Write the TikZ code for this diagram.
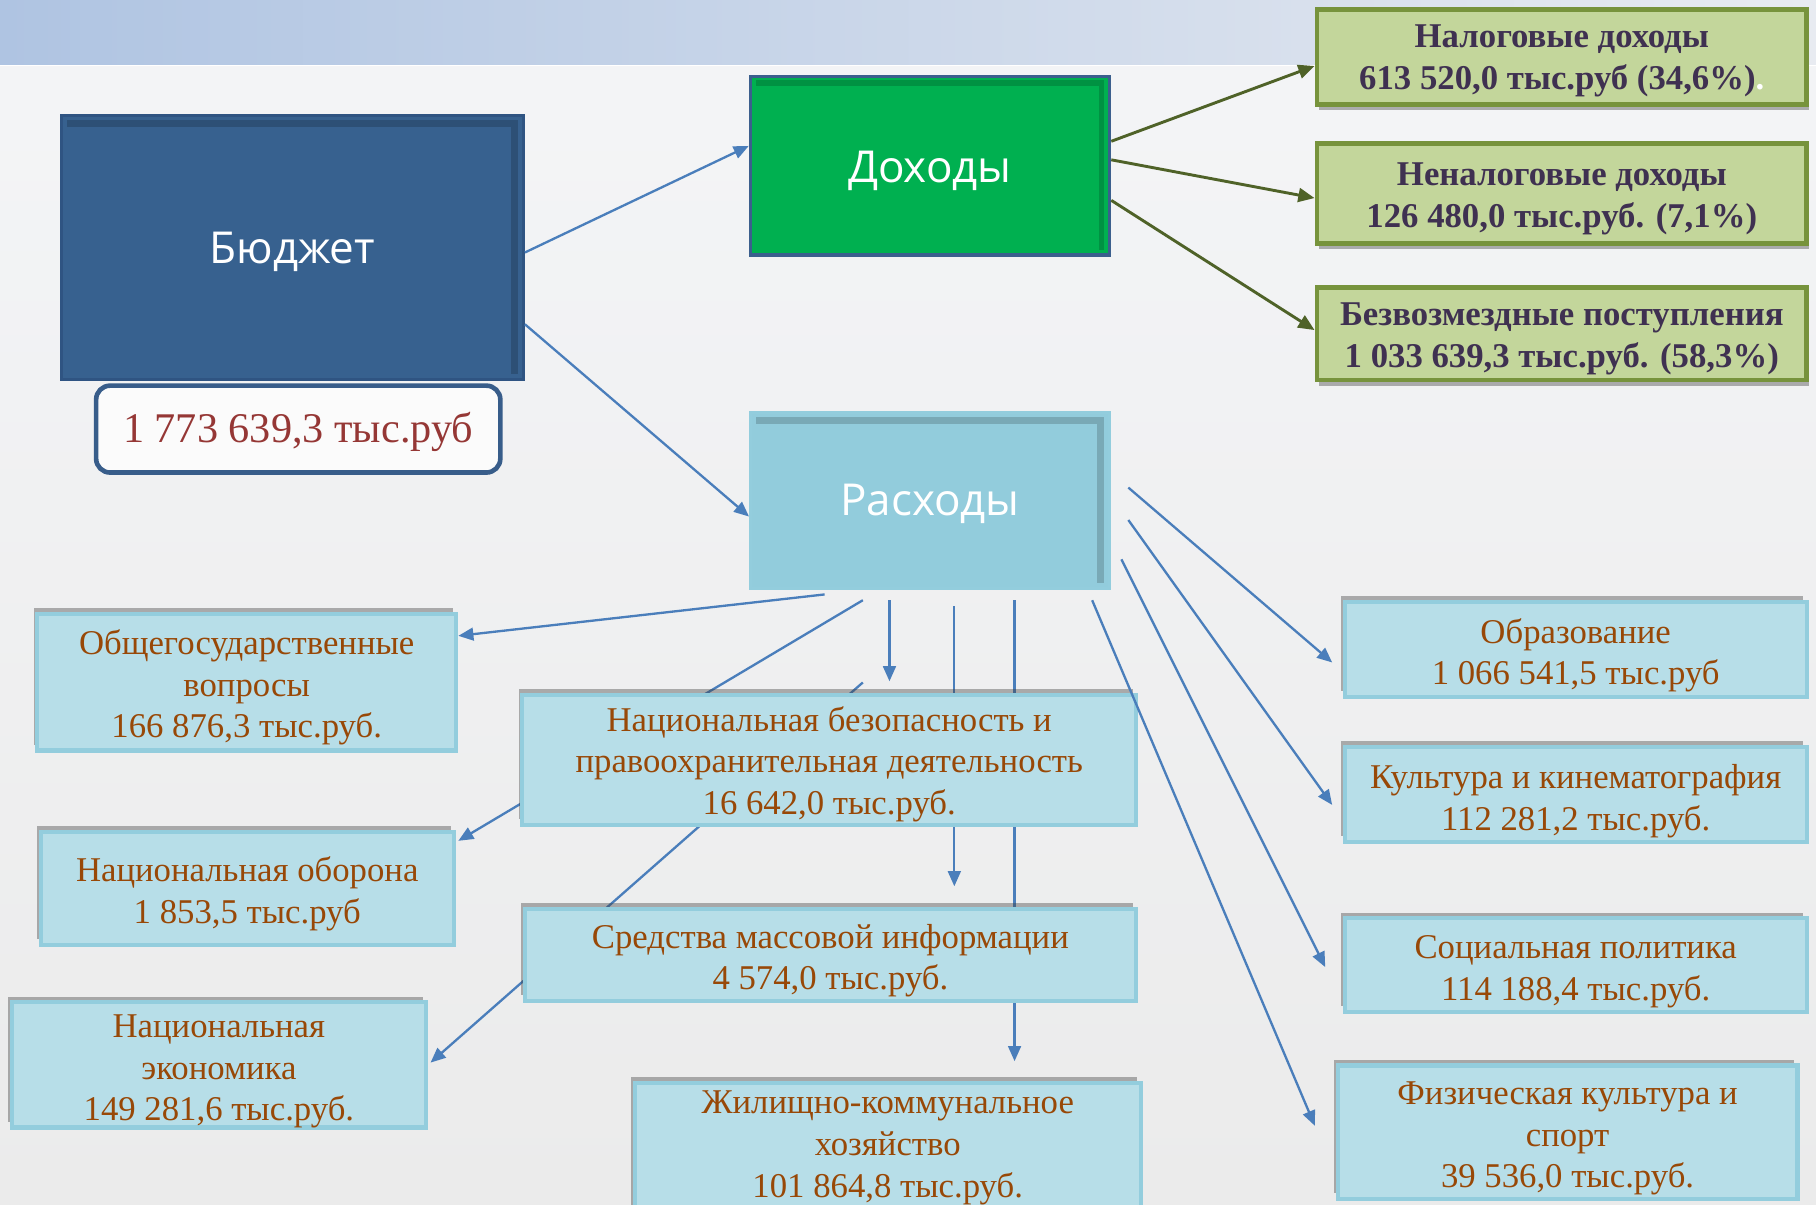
\documentclass[tikz,border=0pt]{standalone}
\usepackage{fontspec}
\setmainfont{Liberation Serif}
\newfontfamily\sansf{Open Sans}
\usetikzlibrary{arrows.meta,shadows,calc}
\pgfdeclarelayer{bg}
\pgfsetlayers{bg,main}
\newcommand\dn[2][5pt]{\raisebox{-#1}[\height][\depth]{\begin{tabular}{@{}c@{}}#2\end{tabular}}}
\definecolor{bgA}{HTML}{F4F5F7}
\definecolor{bgB}{HTML}{EBEBEB}
\definecolor{bandL}{HTML}{AFC4E2}
\definecolor{bandR}{HTML}{E8EBF1}
\definecolor{budF}{HTML}{37618F}
\definecolor{budB}{HTML}{2F5482}
\definecolor{dohF}{HTML}{00B050}
\definecolor{dohB}{HTML}{3B5F8D}
\definecolor{rasF}{HTML}{92CCDC}
\definecolor{lbF}{HTML}{B7DEE8}
\definecolor{lbB}{HTML}{93CDDD}
\definecolor{brn}{HTML}{984807}
\definecolor{gF}{HTML}{C3D69B}
\definecolor{gB}{HTML}{77933C}
\definecolor{gT}{HTML}{3F3151}
\definecolor{olv}{HTML}{4F6228}
\definecolor{blu}{HTML}{4A7EBB}
\definecolor{amtB}{HTML}{385D8A}
\definecolor{amtT}{HTML}{953735}
\begin{document}
\begin{tikzpicture}[x=1pt,y=-1pt,
  lbox/.style={draw=lbB, fill=lbF, line width=3.5pt, text=brn,
    font=\fontsize{30}{36}\selectfont, inner sep=0pt,
    drop shadow={shadow xshift=-3pt, shadow yshift=5pt, opacity=.4, fill=black!75}},
  gbox/.style={draw=gB, fill=gF, line width=4pt, text=gT,
    font=\bfseries\fontsize{30}{36}\selectfont, inner sep=0pt,
    drop shadow={shadow xshift=2pt, shadow yshift=-5pt, opacity=.4, fill=black!75}},
  bigbox/.style={text=white, font=\sansf\fontsize{38}{42}\selectfont, inner sep=0pt},
  bl/.style={draw=blu, line width=2pt},
  blA/.style={bl, -{Triangle[length=13pt,width=11pt]}},
  olA/.style={draw=olv, line width=2.5pt, -{Triangle[length=14pt,width=12pt]}},
  innershade/.style={black, opacity=.17}]

\useasboundingbox (0,0) rectangle (1568,1040);
\begin{pgfonlayer}{bg}
  \fill[top color=bgA, bottom color=bgB] (0,0) rectangle (1568,1040);
  \fill[left color=bandL, right color=bandR] (0,0) rectangle (1568,56);
  \draw[white, line width=1.5pt] (0,56.5) -- (1568,56.5);
\end{pgfonlayer}

% main boxes
\node[bigbox, draw=budB, fill=budF, line width=2.5pt, minimum width=399, minimum height=228] (bud) at (252.5,214) {\dn{Бюджет}};
\node[draw=amtB, fill=white!97!gray, line width=4pt, rounded corners=12pt, minimum width=349, minimum height=75,
  text=amtT, font=\fontsize{36.5}{40}\selectfont, inner sep=0pt] (amt) at (257.5,370.5) {\dn[4pt]{1 773 639,3 тыс.руб}};
\node[bigbox, draw=dohB, fill=dohF, line width=3pt, minimum width=310, minimum height=154] (doh) at (803,143) {\dn[6pt]{Доходы}};
\node[bigbox, draw=lbB, fill=rasF, line width=2.5pt, minimum width=310, minimum height=152] (ras) at (803,432) {\dn{Расходы}};

% inner shadows
\fill[innershade] ([xshift=6pt,yshift=-5pt]bud.north west) rectangle ([xshift=-6pt,yshift=-11pt]bud.north east);
\fill[innershade] ([xshift=-12pt,yshift=-11pt]bud.north east) rectangle ([xshift=-6pt,yshift=6pt]bud.south east);
\fill[innershade] ([xshift=6pt,yshift=-5pt]doh.north west) rectangle ([xshift=-6pt,yshift=-10pt]doh.north east);
\fill[innershade] ([xshift=-11pt,yshift=-10pt]doh.north east) rectangle ([xshift=-6pt,yshift=6pt]doh.south east);
\fill[innershade] ([xshift=6pt,yshift=-5pt]ras.north west) rectangle ([xshift=-6pt,yshift=-11pt]ras.north east);
\fill[innershade] ([xshift=-12pt,yshift=-11pt]ras.north east) rectangle ([xshift=-6pt,yshift=6pt]ras.south east);

% income boxes
\node[gbox, minimum width=423, minimum height=82] (nal) at (1348.5,49) {\dn[3pt]{Налоговые доходы\\613 520,0 тыс.руб (34,6\%){\color{white}.}}};
\node[gbox, minimum width=423, minimum height=86] (nenal) at (1348.5,167) {\dn[4pt]{Неналоговые доходы\\126 480,0 тыс.руб. (7,1\%)}};
\node[gbox, minimum width=423, minimum height=80] (bezv) at (1348.5,288) {\dn[4pt]{Безвозмездные поступления\\1 033 639,3 тыс.руб. (58,3\%)}};

% expense boxes
\node[lbox, minimum width=362, minimum height=118] (obsh) at (213,589) {\dn{Общегосударственные\\вопросы\\166 876,3 тыс.руб.}};
\node[lbox, minimum width=530, minimum height=112] (nb) at (716,656) {\dn[4pt]{Национальная безопасность и\\правоохранительная деятельность\\16 642,0 тыс.руб.}};
\node[lbox, minimum width=357, minimum height=98] (obor) at (213.5,767) {\dn{Национальная оборона\\1 853,5 тыс.руб}};
\node[lbox, minimum width=528, minimum height=79] (smi) at (717,824.5) {\dn{Средства массовой информации\\4 574,0 тыс.руб.}};
\node[lbox, minimum width=358, minimum height=107] (econ) at (189,919.5) {\dn{Национальная\\экономика\\149 281,6 тыс.руб.}};
\node[lbox, minimum width=437, minimum height=115] (zhkh) at (766.5,992.5) {\dn[-2pt]{Жилищно-коммунальное\\хозяйство\\101 864,8 тыс.руб.}};
\node[lbox, minimum width=399, minimum height=82] (obr) at (1360.5,561) {\dn{Образование\\1 066 541,5 тыс.руб}};
\node[lbox, minimum width=399, minimum height=82] (kult) at (1360.5,686) {\dn[6pt]{Культура и кинематография\\112 281,2 тыс.руб.}};
\node[lbox, minimum width=399, minimum height=81] (soc) at (1360.5,833.5) {\dn{Социальная политика\\114 188,4 тыс.руб.}};
\node[lbox, minimum width=397, minimum height=115] (fiz) at (1353.5,977.5) {\dn{Физическая культура и\\спорт\\39 536,0 тыс.руб.}};

% connectors hidden behind boxes
\begin{pgfonlayer}{bg}
  \draw[blA] ([xshift=-58pt,yshift=-9pt]ras.south) -- ([xshift=2pt,yshift=41pt]obor.east);
  \draw[blA] ([xshift=29pt,yshift=9pt]nb.north) -- ([xshift=2pt,yshift=2pt]econ.east);
  \draw[blA] ([xshift=21pt,yshift=-14pt]ras.south) -- ([xshift=107pt,yshift=18pt]smi.north);
  \draw[blA] ([xshift=73pt,yshift=-9pt]ras.south) -- ([xshift=109.5pt,yshift=17pt]zhkh.north);
\end{pgfonlayer}

% visible connectors
\draw[blA] ([yshift=-4pt]bud.east) -- ([yshift=17pt]doh.west);
\draw[blA] ([yshift=-66pt]bud.east) -- ([yshift=-14pt]ras.west);
\draw[olA] ([yshift=21pt]doh.east) -- ([yshift=-8pt]nal.west);
\draw[olA] ([yshift=5pt]doh.east) -- ([yshift=-4pt]nenal.west);
\draw[olA] ([yshift=-30pt]doh.east) -- ([yshift=3pt]bezv.west);

\draw[blA] ([xshift=-91pt,yshift=-4pt]ras.south) -- ([yshift=40pt]obsh.east);
\draw[blA] ([xshift=-35pt,yshift=-9pt]ras.south) -- ([xshift=52pt,yshift=10pt]nb.north);
\draw[blA] ([xshift=140pt,yshift=-9pt]ras.south) -- ([xshift=-18pt,yshift=5.5pt]fiz.west);
\draw[blA] ([xshift=9pt,yshift=-51pt]ras.east) -- ([xshift=-15pt,yshift=-1.5pt]soc.west);
\draw[blA] ([xshift=15pt,yshift=-17pt]ras.east) -- ([xshift=-9pt,yshift=-9pt]kult.west);
\draw[blA] ([xshift=15pt,yshift=11pt]ras.east) -- ([xshift=-9pt,yshift=-11pt]obr.west);
\end{tikzpicture}
\end{document}
